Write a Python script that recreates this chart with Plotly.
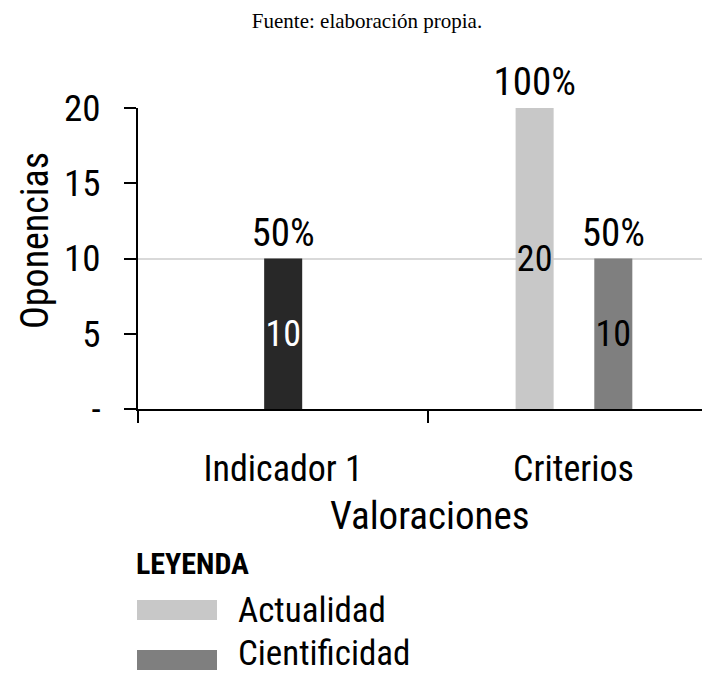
import plotly.graph_objects as go

# ---- data ----
categories = ["Indicador 1", "Criterios"]
serie_indicador = [10, None]          # dark bar (not listed in the legend)
serie_actualidad = [None, 20]
serie_cientificidad = [None, 10]
pct_indicador = ["50%", ""]
pct_actualidad = ["", "100%"]
pct_cientificidad = ["", "50%"]
y_tick_vals = [0, 5, 10, 15, 20]
y_tick_text = ["-", "5", "10", "15", "20"]
y_grid_vals = [10, 20]
legend_names = ["Actualidad", "Cientificidad"]

FONT = "Roboto Condensed, Liberation Sans, sans-serif"
C_DARK = "#282828"
C_LIGHT = "#c8c8c8"
C_MID = "#7f7f7f"
W = 0.131

# the page body adds an 8px margin, so the figure is 8px smaller than the window
BODY = 8
W_PX, H_PX = 710 - BODY, 674 - BODY
M_L, M_R, M_T, M_B = 130, 0, 100, 265
PW = W_PX - M_L - M_R
PH = H_PX - M_T - M_B


def px_x(sx):
    """screen x -> paper x"""
    return (sx - BODY - M_L) / PW


def px_y(sy):
    """screen y -> paper y"""
    return (H_PX - M_B - (sy - BODY)) / PH


def txt(vals):
    return ["" if v is None else str(v) for v in vals]


fig = go.Figure()

series = [
    ("Indicador", serie_indicador, pct_indicador, C_DARK, -W / 2, "white"),
    ("Actualidad", serie_actualidad, pct_actualidad, C_LIGHT, -0.134 - W / 2, "black"),
    ("Cientificidad", serie_cientificidad, pct_cientificidad, C_MID, 0.137 - W / 2, "black"),
]

for name, vals, pcts, color, off, tcolor in series:
    fig.add_trace(go.Bar(
        x=categories, y=vals, name=name, offset=off, width=W,
        marker=dict(color=color, line=dict(width=0)),
        text=txt(vals), textposition="inside", insidetextanchor="middle",
        textangle=0, constraintext="none",
        insidetextfont=dict(family=FONT, size=36, color=tcolor),
        showlegend=False,
    ))
    fig.add_trace(go.Bar(
        x=categories, y=vals, offset=off, width=W,
        marker=dict(color="rgba(0,0,0,0)", line=dict(width=0)),
        text=pcts, textposition="outside", textangle=0, constraintext="none",
        outsidetextfont=dict(family=FONT, size=39, color="black"),
        cliponaxis=False, showlegend=False, hoverinfo="skip",
    ))

# axis titles and hand-made legend (large swatches as in the reference)
shapes = []
annotations = [
    dict(text="Valoraciones", xref="paper", yref="paper",
         x=px_x(430), y=px_y(516), xanchor="center", yanchor="middle",
         showarrow=False, font=dict(family=FONT, size=39)),
    dict(text="Oponencias", xref="paper", yref="paper", textangle=-90,
         x=px_x(35), y=px_y(241), xanchor="center", yanchor="middle",
         showarrow=False, font=dict(family=FONT, size=38)),
    dict(text="<b>LEYENDA</b>", xref="paper", yref="paper",
         x=px_x(134), y=px_y(563), xanchor="left", yanchor="middle",
         showarrow=False, font=dict(family=FONT, size=30)),
]
leg_colors = {"Actualidad": C_LIGHT, "Cientificidad": C_MID}
leg_text_y = [610, 653]
for i, name in enumerate(legend_names):
    yc = 610 + 50 * i
    shapes.append(dict(type="rect", xref="paper", yref="paper",
                       x0=px_x(137), x1=px_x(217), y0=px_y(yc + 10), y1=px_y(yc - 10),
                       fillcolor=leg_colors[name], line=dict(width=0)))
    annotations.append(dict(text=name, xref="paper", yref="paper",
                            x=px_x(236), y=px_y(leg_text_y[i]), xanchor="left", yanchor="middle",
                            showarrow=False, font=dict(family=FONT, size=35)))

fig.update_layout(
    width=W_PX, height=H_PX,
    margin=dict(l=M_L, r=M_R, t=M_T, b=M_B, autoexpand=False),
    paper_bgcolor="white", plot_bgcolor="white",
    barmode="overlay", showlegend=False,
    font=dict(family=FONT, color="black"),
    title=dict(text="Fuente: elaboración propia.", x=(367 - BODY) / W_PX, xref="container",
               xanchor="center", y=1 - (21 - BODY) / H_PX, yref="container", yanchor="middle",
               font=dict(family="Liberation Serif, Times New Roman, serif", size=21, color="black")),
    xaxis=dict(
        type="category", range=[-0.5, 1.47],
        showline=True, linecolor="black", linewidth=2,
        ticks="outside", tickson="boundaries", ticklen=12, tickwidth=2, tickcolor="black",
        showgrid=False, tickfont=dict(family=FONT, size=36), ticklabelstandoff=27,
    ),
    yaxis=dict(
        range=[0, 20], tickmode="array", tickvals=y_tick_vals, ticktext=y_tick_text,
        showline=True, linecolor="black", linewidth=2,
        ticks="outside", ticklen=12, tickwidth=2, tickcolor="black",
        showgrid=False, zeroline=False,
        tickfont=dict(family=FONT, size=37), ticklabelstandoff=16,
        minor=dict(tickmode="array", tickvals=y_grid_vals, showgrid=True,
                   gridcolor="#d9d9d9", gridwidth=2, ticks=""),
    ),
    shapes=shapes,
    annotations=annotations,
)

fig.write_html("out.html")
